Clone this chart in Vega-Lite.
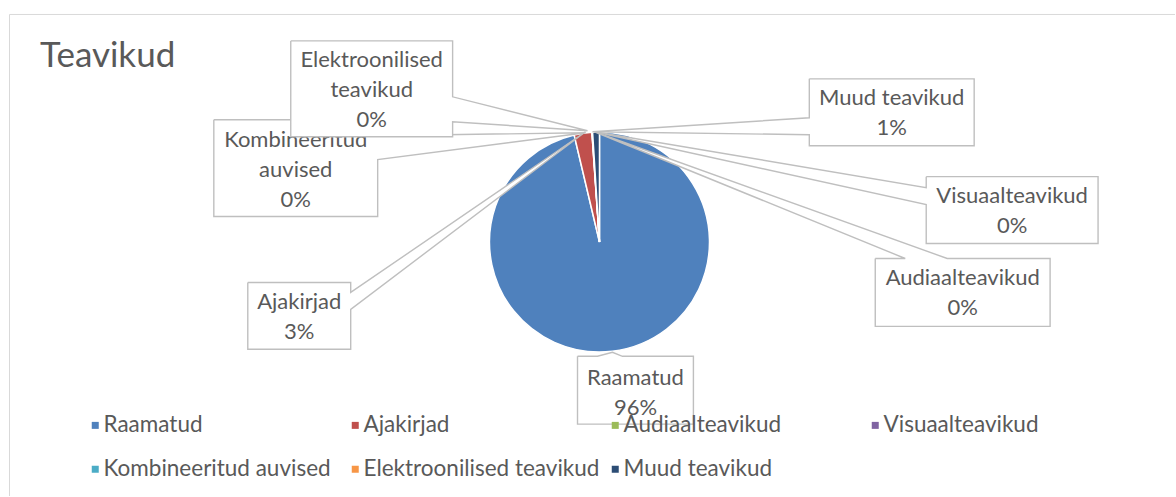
{
  "$schema": "https://vega.github.io/schema/vega-lite/v6.json",
  "width": 1176,
  "height": 497,
  "autosize": {"type": "fit", "contains": "padding"},
  "padding": 0,
  "background": "white",
  "config": {"view": {"stroke": null}, "font": "Lato"},
  "title": {"text": "Teavikud", "anchor": "start", "frame": "group", "orient": "top", "fontSize": 35, "font": "Lato", "fontWeight": "normal", "color": "#595959", "offset": 0, "dx": 40, "dy": 102, "baseline": "alphabetic"},
  "datasets": {
    "shares": [
      {"cat": "Raamatud", "value": 96.3, "rank": 1},
      {"cat": "Ajakirjad", "value": 2.6, "rank": 2},
      {"cat": "Audiaalteavikud", "value": 0.03, "rank": 3},
      {"cat": "Visuaalteavikud", "value": 0.04, "rank": 4},
      {"cat": "Kombineeritud auvised", "value": 0.01, "rank": 5},
      {"cat": "Elektroonilised teavikud", "value": 0.02, "rank": 6},
      {"cat": "Muud teavikud", "value": 1.0, "rank": 7}
    ],
    "boxes": [
      {"id": "Raamatud", "k": 1, "px": 578, "py": 357},
      {"id": "Raamatud", "k": 2, "px": 598, "py": 357},
      {"id": "Raamatud", "k": 3, "px": 613, "py": 353},
      {"id": "Raamatud", "k": 4, "px": 623, "py": 357},
      {"id": "Raamatud", "k": 5, "px": 694, "py": 357},
      {"id": "Raamatud", "k": 6, "px": 694, "py": 425},
      {"id": "Raamatud", "k": 7, "px": 578, "py": 425},
      {"id": "Raamatud", "k": 8, "px": 578, "py": 357},
      {"id": "Ajakirjad", "k": 1, "px": 248, "py": 283},
      {"id": "Ajakirjad", "k": 2, "px": 351, "py": 283},
      {"id": "Ajakirjad", "k": 3, "px": 351, "py": 293},
      {"id": "Ajakirjad", "k": 4, "px": 586, "py": 132},
      {"id": "Ajakirjad", "k": 5, "px": 351, "py": 310},
      {"id": "Ajakirjad", "k": 6, "px": 351, "py": 350},
      {"id": "Ajakirjad", "k": 7, "px": 248, "py": 350},
      {"id": "Ajakirjad", "k": 8, "px": 248, "py": 283},
      {"id": "Audiaalteavikud", "k": 1, "px": 876, "py": 259},
      {"id": "Audiaalteavikud", "k": 2, "px": 906, "py": 259},
      {"id": "Audiaalteavikud", "k": 3, "px": 595, "py": 132},
      {"id": "Audiaalteavikud", "k": 4, "px": 948, "py": 259},
      {"id": "Audiaalteavikud", "k": 5, "px": 1051, "py": 259},
      {"id": "Audiaalteavikud", "k": 6, "px": 1051, "py": 327},
      {"id": "Audiaalteavikud", "k": 7, "px": 876, "py": 327},
      {"id": "Audiaalteavikud", "k": 8, "px": 876, "py": 259},
      {"id": "Visuaalteavikud", "k": 1, "px": 927, "py": 177},
      {"id": "Visuaalteavikud", "k": 2, "px": 1099, "py": 177},
      {"id": "Visuaalteavikud", "k": 3, "px": 1099, "py": 244},
      {"id": "Visuaalteavikud", "k": 4, "px": 927, "py": 244},
      {"id": "Visuaalteavikud", "k": 5, "px": 927, "py": 205},
      {"id": "Visuaalteavikud", "k": 6, "px": 595, "py": 132},
      {"id": "Visuaalteavikud", "k": 7, "px": 927, "py": 188},
      {"id": "Visuaalteavikud", "k": 8, "px": 927, "py": 177},
      {"id": "Kombineeritud auvised", "k": 1, "px": 214, "py": 120},
      {"id": "Kombineeritud auvised", "k": 2, "px": 378, "py": 120},
      {"id": "Kombineeritud auvised", "k": 3, "px": 378, "py": 136},
      {"id": "Kombineeritud auvised", "k": 4, "px": 586, "py": 133},
      {"id": "Kombineeritud auvised", "k": 5, "px": 378, "py": 160},
      {"id": "Kombineeritud auvised", "k": 6, "px": 378, "py": 217},
      {"id": "Kombineeritud auvised", "k": 7, "px": 214, "py": 217},
      {"id": "Kombineeritud auvised", "k": 8, "px": 214, "py": 120},
      {"id": "Elektroonilised teavikud", "k": 1, "px": 291, "py": 41},
      {"id": "Elektroonilised teavikud", "k": 2, "px": 453, "py": 41},
      {"id": "Elektroonilised teavikud", "k": 3, "px": 453, "py": 97},
      {"id": "Elektroonilised teavikud", "k": 4, "px": 588, "py": 131},
      {"id": "Elektroonilised teavikud", "k": 5, "px": 453, "py": 122},
      {"id": "Elektroonilised teavikud", "k": 6, "px": 453, "py": 137},
      {"id": "Elektroonilised teavikud", "k": 7, "px": 291, "py": 137},
      {"id": "Elektroonilised teavikud", "k": 8, "px": 291, "py": 41},
      {"id": "Muud teavikud", "k": 1, "px": 810, "py": 79},
      {"id": "Muud teavikud", "k": 2, "px": 975, "py": 79},
      {"id": "Muud teavikud", "k": 3, "px": 975, "py": 146},
      {"id": "Muud teavikud", "k": 4, "px": 810, "py": 146},
      {"id": "Muud teavikud", "k": 5, "px": 810, "py": 135},
      {"id": "Muud teavikud", "k": 6, "px": 593, "py": 132},
      {"id": "Muud teavikud", "k": 7, "px": 810, "py": 118},
      {"id": "Muud teavikud", "k": 8, "px": 810, "py": 79}
    ],
    "labels": [
      {"cat": "Raamatud", "lines": "Raamatud", "cx": 636, "cy": 379},
      {"cat": "Ajakirjad", "lines": "Ajakirjad", "cx": 299.5, "cy": 303},
      {"cat": "Audiaalteavikud", "lines": "Audiaalteavikud", "cx": 963.5, "cy": 279},
      {"cat": "Visuaalteavikud", "lines": "Visuaalteavikud", "cx": 1013, "cy": 196},
      {"cat": "Kombineeritud auvised", "lines": "Kombineeritud\nauvised", "cx": 296, "cy": 140},
      {"cat": "Elektroonilised teavikud", "lines": "Elektroonilised\nteavikud", "cx": 372, "cy": 60},
      {"cat": "Muud teavikud", "lines": "Muud teavikud", "cx": 892.5, "cy": 98}
    ]
  },
  "layer": [
    {
      "data": {"values": [{}]},
      "mark": {"type": "rule", "stroke": "#d9d9d9", "strokeWidth": 1},
      "encoding": {
        "x": {"datum": 9.5, "type": "quantitative", "scale": {"domain": [0, 1176], "nice": false, "zero": false}, "axis": null},
        "y": {"datum": 14.5, "type": "quantitative", "scale": {"domain": [497, 0], "nice": false, "zero": false}, "axis": null},
        "x2": {"datum": 1176},
        "y2": {"datum": 14.5}
      }
    },
    {
      "data": {"values": [{}]},
      "mark": {"type": "rule", "stroke": "#d9d9d9", "strokeWidth": 1},
      "encoding": {
        "x": {"datum": 9.5, "type": "quantitative"},
        "y": {"datum": 14.5, "type": "quantitative"},
        "x2": {"datum": 9.5},
        "y2": {"datum": 497}
      }
    },
    {
      "data": {"name": "shares"},
      "mark": {"type": "arc", "radius": 110, "stroke": "white", "strokeWidth": 1.5},
      "encoding": {
        "x": {"datum": 600, "type": "quantitative"},
        "y": {"datum": 242.5, "type": "quantitative"},
        "theta": {"field": "value", "type": "quantitative", "stack": true},
        "order": {"field": "rank", "type": "quantitative"},
        "color": {
          "field": "cat",
          "type": "nominal",
          "scale": {
            "domain": ["Raamatud", "Ajakirjad", "Audiaalteavikud", "Visuaalteavikud", "Kombineeritud auvised", "Elektroonilised teavikud", "Muud teavikud"],
            "range": ["#4F81BD", "#C0504D", "#9BBB59", "#8064A2", "#4BACC6", "#F79646", "#2C4D75"]
          },
          "legend": {
            "orient": "none", "legendX": 84, "legendY": 414, "direction": "horizontal", "columns": 4,
            "title": null, "symbolType": "square", "symbolSize": 49, "symbolStrokeWidth": 0,
            "labelFontSize": 22.5, "labelColor": "#595959", "labelFont": "Lato", "labelOffset": -3, "labelLimit": 400,
            "columnPadding": 4, "rowPadding": 21, "gridAlign": "all", "padding": 0
          }
        }
      }
    },
    {
      "data": {"name": "boxes"},
      "transform": [{"filter": "datum.id !== 'Elektroonilised teavikud'"}],
      "mark": {"type": "line", "fill": "white", "stroke": "#bfbfbf", "strokeWidth": 1.4, "interpolate": "linear"},
      "encoding": {
        "x": {"field": "px", "type": "quantitative"},
        "y": {"field": "py", "type": "quantitative"},
        "order": {"field": "k", "type": "quantitative"},
        "detail": {"field": "id", "type": "nominal"}
      }
    },
    {
      "data": {"name": "labels"},
      "transform": [
        {"filter": "datum.cat !== 'Elektroonilised teavikud'"},
        {"lookup": "cat", "from": {"data": {"name": "shares"}, "key": "cat", "fields": ["value"]}},
        {"calculate": "datum.lines + '\\n' + format(datum.value / 100, '.0%')", "as": "label"}
      ],
      "mark": {"type": "text", "fontSize": 22, "lineHeight": 30, "lineBreak": "\n", "align": "center", "baseline": "middle", "color": "#595959", "font": "Lato"},
      "encoding": {
        "x": {"field": "cx", "type": "quantitative"},
        "y": {"field": "cy", "type": "quantitative"},
        "text": {"field": "label", "type": "nominal"}
      }
    },
    {
      "data": {"name": "boxes"},
      "transform": [{"filter": "datum.id === 'Elektroonilised teavikud'"}],
      "mark": {"type": "line", "fill": "white", "stroke": "#bfbfbf", "strokeWidth": 1.4, "interpolate": "linear"},
      "encoding": {
        "x": {"field": "px", "type": "quantitative"},
        "y": {"field": "py", "type": "quantitative"},
        "order": {"field": "k", "type": "quantitative"},
        "detail": {"field": "id", "type": "nominal"}
      }
    },
    {
      "data": {"name": "labels"},
      "transform": [
        {"filter": "datum.cat === 'Elektroonilised teavikud'"},
        {"lookup": "cat", "from": {"data": {"name": "shares"}, "key": "cat", "fields": ["value"]}},
        {"calculate": "datum.lines + '\\n' + format(datum.value / 100, '.0%')", "as": "label"}
      ],
      "mark": {"type": "text", "fontSize": 22, "lineHeight": 30, "lineBreak": "\n", "align": "center", "baseline": "middle", "color": "#595959", "font": "Lato"},
      "encoding": {
        "x": {"field": "cx", "type": "quantitative"},
        "y": {"field": "cy", "type": "quantitative"},
        "text": {"field": "label", "type": "nominal"}
      }
    }
  ]
}
